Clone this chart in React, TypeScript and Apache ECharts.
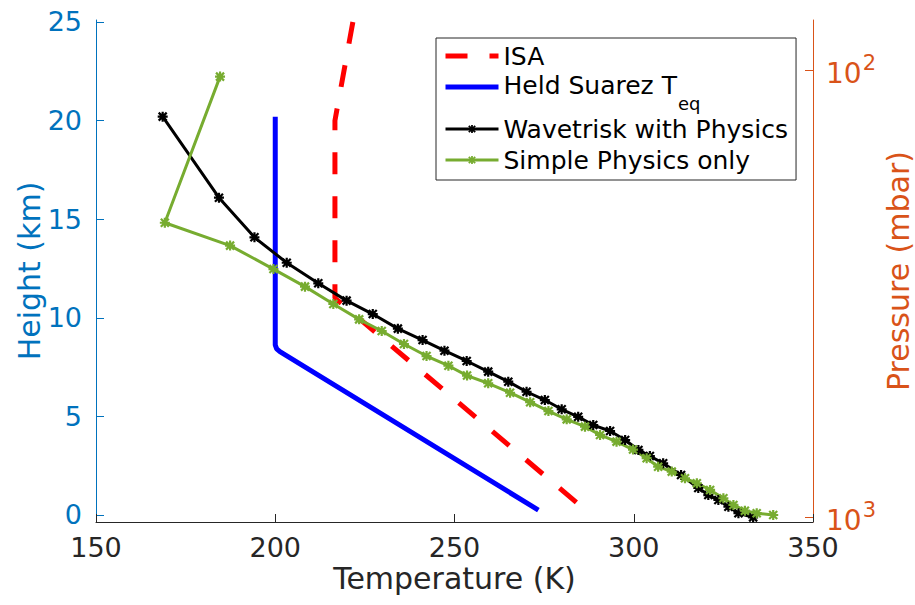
import React, { useEffect, useRef } from "react";
import * as echarts from "echarts";

// International Standard Atmosphere, listed from the top down
const ISA_T = [221.65, 216.65, 216.65, 288.15];
const ISA_H = [25, 20, 11, 0];

// Held–Suarez equilibrium temperature profile
const HS_T = [200.0, 200.0, 200.4, 201.3, 273.4];
const HS_H = [20.2, 8.62, 8.42, 8.28, 0.25];

// Wavetrisk with physics, model levels
const WT_T = [
  168.6, 184.3, 194.2, 203.2, 212.0, 219.9, 227.2, 234.2, 241.1, 247.2,
  253.4, 259.4, 265.0, 270.1, 275.2, 279.9, 284.5, 288.7, 293.4, 297.6,
  301.3, 304.5, 308.2, 313.2, 318.0, 320.8, 323.6, 326.4, 329.2, 333.3,
];
const WT_H = [
  20.2, 16.09, 14.08, 12.79, 11.75, 10.87, 10.19, 9.45, 8.87, 8.33,
  7.81, 7.27, 6.76, 6.25, 5.83, 5.36, 4.98, 4.56, 4.26, 3.8,
  3.3, 2.99, 2.62, 2.03, 1.37, 1.01, 0.76, 0.42, 0.09, -0.12,
];

// Simple physics only, model levels
const SP_T = [
  184.6, 169.2, 187.4, 199.5, 208.3, 216.2, 223.4, 229.7, 235.9, 242.2,
  248.3, 253.5, 259.4, 265.5, 271.1, 276.2, 281.3, 286.4, 290.6, 295.2,
  299.8, 303.6, 306.8, 310.6, 314.3, 317.6, 321.3, 325.0, 327.8, 331.0,
  334.3, 338.9,
];
const SP_H = [
  22.23, 14.82, 13.66, 12.47, 11.58, 10.7, 9.92, 9.33, 8.67, 8.06,
  7.57, 7.07, 6.68, 6.2, 5.72, 5.27, 4.85, 4.48, 4.06, 3.72,
  3.32, 2.88, 2.45, 2.2, 1.86, 1.61, 1.27, 0.85, 0.51, 0.22,
  0.09, 0.0,
];

const T_TICKS = [150, 200, 250, 300, 350];
const H_TICKS = [0, 5, 10, 15, 20, 25];
const P_TICKS = [100, 1000];

const SERIES_NAMES = ["ISA", "Held Suarez Teq", "Wavetrisk with Physics", "Simple Physics only"];

const FONT = "DejaVu Sans";
const AX_DARK = "#262626";
const AX_LEFT = "#0072BD";
const AX_RIGHT = "#D95319";

// asterisk marker: a plus and a cross of filled bars
const STAR =
  "path://M3.9 0 H6.1 V3.9 H10 V6.1 H6.1 V10 H3.9 V6.1 H0 V3.9 H3.9 Z " +
  "M1.78 0.22 L9.78 8.22 L8.22 9.78 L0.22 1.78 Z " +
  "M8.22 0.22 L9.78 1.78 L1.78 9.78 L0.22 8.22 Z";

const pairs = (xs: number[], ys: number[]) => xs.map((x, i) => [x, ys[i]]);

export default function App() {
  const ref = useRef<HTMLDivElement>(null);

  useEffect(() => {
    if (!ref.current) return;
    const chart = echarts.init(ref.current, undefined, { renderer: "svg" });

    chart.setOption({
      animation: false,
      backgroundColor: "#ffffff",
      textStyle: { fontFamily: FONT },
      grid: {
        left: 96,
        right: 102,
        top: 20,
        bottom: 83,
        containLabel: false,
        outerBoundsMode: "none",
      },
      legend: {
        orient: "vertical",
        left: 436,
        top: 38,
        backgroundColor: "#ffffff",
        borderColor: AX_DARK,
        borderWidth: 1,
        borderRadius: 0,
        padding: [4, 8, 6, 7],
        itemWidth: 53,
        itemHeight: 10,
        itemGap: 3,
        data: [
          // line-only entries: hide the legend marker
          { name: SERIES_NAMES[0], itemStyle: { opacity: 0 }, lineStyle: { width: 5 } },
          { name: SERIES_NAMES[1], itemStyle: { opacity: 0 }, lineStyle: { width: 5 } },
          { name: SERIES_NAMES[2], lineStyle: { width: 3 } },
          { name: SERIES_NAMES[3], lineStyle: { width: 3 } },
        ],
        formatter: (name: string) =>
          name === "Held Suarez Teq" ? "{m|Held Suarez T}{sub|eq}" : name,
        textStyle: {
          fontFamily: FONT,
          fontSize: 25,
          lineHeight: 28,
          color: "#000000",
          rich: {
            m: {
              fontFamily: FONT,
              fontSize: 25,
              lineHeight: 28,
              color: "#000000",
              verticalAlign: "top",
            },
            sub: {
              fontFamily: FONT,
              fontSize: 18,
              lineHeight: 18,
              color: "#000000",
              verticalAlign: "top",
              padding: [21, 0, 0, 1],
            },
          },
        },
      },
      xAxis: {
        type: "value",
        min: 150,
        max: 350,
        interval: 50,
        name: "Temperature (K)",
        nameLocation: "middle",
        nameGap: 41,
        nameMoveOverlap: false,
        nameTextStyle: { fontFamily: FONT, fontSize: 30, lineHeight: 30, color: AX_DARK },
        axisLine: { show: true, onZero: false, lineStyle: { color: AX_DARK, width: 1 } },
        axisTick: { show: true, inside: true, length: 8, lineStyle: { color: AX_DARK } },
        axisLabel: {
          fontFamily: FONT,
          fontSize: 27,
          color: AX_DARK,
          margin: 12,
          customValues: T_TICKS,
        },
        splitLine: { show: false },
      },
      yAxis: [
        {
          type: "value",
          position: "left",
          min: -0.355,
          max: 25.1,
          name: "Height (km)",
          nameLocation: "middle",
          nameRotate: 90,
          nameGap: 52,
          nameMoveOverlap: false,
          nameTextStyle: { fontFamily: FONT, fontSize: 30, lineHeight: 30, color: AX_LEFT },
          axisLine: { show: true, lineStyle: { color: AX_LEFT, width: 1 } },
          axisTick: {
            show: true,
            inside: true,
            length: 8,
            customValues: H_TICKS,
            lineStyle: { color: AX_LEFT },
          },
          axisLabel: {
            fontFamily: FONT,
            fontSize: 27,
            color: AX_LEFT,
            margin: 14,
            customValues: H_TICKS,
          },
          splitLine: { show: false },
        },
        {
          type: "log",
          logBase: 10,
          position: "right",
          inverse: true,
          min: 77.3,
          max: 1026,
          name: "Pressure (mbar)",
          nameLocation: "middle",
          nameRotate: 90,
          nameGap: 70,
          nameMoveOverlap: false,
          nameTextStyle: { fontFamily: FONT, fontSize: 30, lineHeight: 30, color: AX_RIGHT },
          axisLine: { show: true, lineStyle: { color: AX_RIGHT, width: 1 } },
          axisTick: {
            show: true,
            inside: true,
            length: 8,
            customValues: P_TICKS,
            lineStyle: { color: AX_RIGHT },
          },
          axisLabel: {
            margin: 13,
            customValues: P_TICKS,
            formatter: (v: number) => `{b|10}{s|${Math.round(Math.log10(v))}}`,
            rich: {
              b: { fontFamily: FONT, fontSize: 28, color: AX_RIGHT, padding: [7, 0, 0, 0] },
              s: { fontFamily: FONT, fontSize: 21, color: AX_RIGHT, padding: [0, 0, 14, 1] },
            },
          },
          splitLine: { show: false },
        },
      ],
      series: [
        {
          name: SERIES_NAMES[0],
          type: "line",
          yAxisIndex: 0,
          data: pairs(ISA_T, ISA_H),
          symbol: "none",
          color: "#FF0000",
          lineStyle: { color: "#FF0000", width: 5, type: [22, 22] },
        },
        {
          name: SERIES_NAMES[1],
          type: "line",
          yAxisIndex: 0,
          data: pairs(HS_T, HS_H),
          symbol: "none",
          color: "#0000FF",
          lineStyle: { color: "#0000FF", width: 5 },
        },
        {
          name: SERIES_NAMES[2],
          type: "line",
          yAxisIndex: 0,
          data: pairs(WT_T, WT_H),
          symbol: STAR,
          symbolSize: 10,
          color: "#000000",
          itemStyle: { color: "#000000" },
          lineStyle: { color: "#000000", width: 3 },
        },
        {
          name: SERIES_NAMES[3],
          type: "line",
          yAxisIndex: 0,
          data: pairs(SP_T, SP_H),
          symbol: STAR,
          symbolSize: 10,
          color: "#77AC30",
          itemStyle: { color: "#77AC30" },
          lineStyle: { color: "#77AC30", width: 3 },
        },
      ],
    });

    return () => chart.dispose();
  }, []);

  return (
    <div
      ref={ref}
      style={{ position: "fixed", left: 0, top: 0, width: 915, height: 605, background: "#fff" }}
    />
  );
}
